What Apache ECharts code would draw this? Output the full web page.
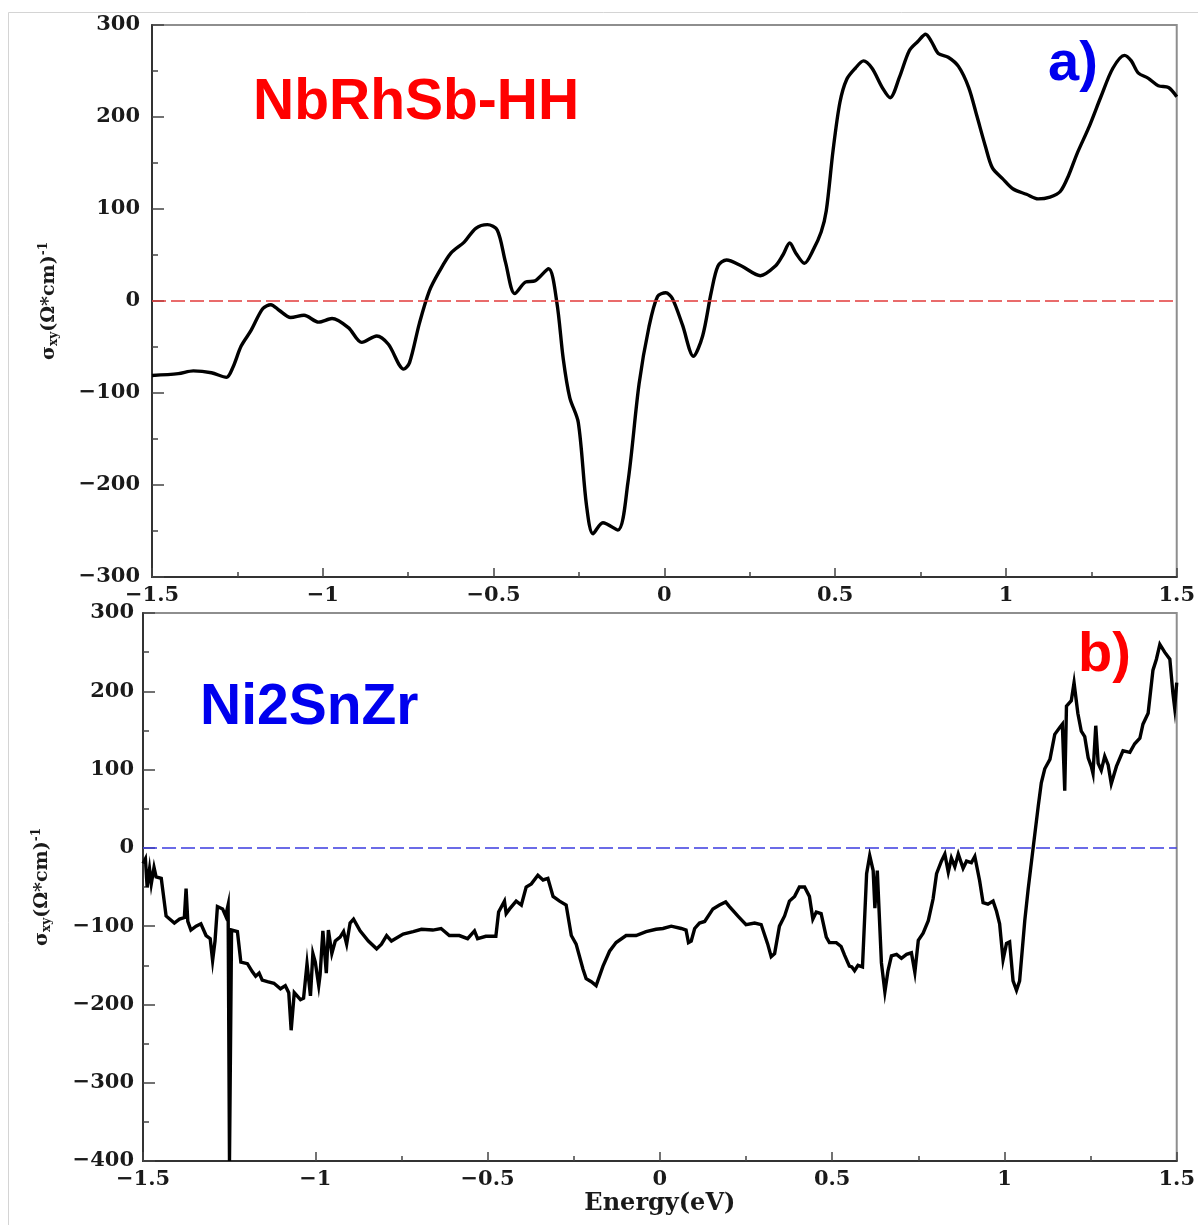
<!DOCTYPE html>
<html>
<head>
<meta charset="utf-8">
<title>Anomalous Hall conductivity</title>
<script src="https://cdn.jsdelivr.net/npm/echarts@6/dist/echarts.min.js"></script>
<style>
  html, body { margin: 0; padding: 0; background: #ffffff; }
  #chart { width: 1198px; height: 1225px; }
</style>
</head>
<body>
<div id="chart"></div>
<script>
// Energy axis ticks (eV) and conductivity axis limits
const energyTicks = [-1.5, -1, -0.5, 0, 0.5, 1, 1.5];
const nbSigmaRange = [-300, 300];
const niSigmaRange = [-400, 300];

// (a) NbRhSb-HH : sigma_xy vs energy
const nbEnergy = [
  -1.500, -1.423, -1.379, -1.326, -1.282, -1.263, -1.239, -1.210, -1.176, -1.152,
  -1.128, -1.094, -1.055, -1.012, -0.973, -0.925, -0.886, -0.842, -0.808, -0.763,
  -0.746, -0.717, -0.688, -0.659, -0.625, -0.586, -0.552, -0.518, -0.489, -0.465,
  -0.438, -0.407, -0.378, -0.339, -0.315, -0.296, -0.277, -0.252, -0.228, -0.209,
  -0.180, -0.136, -0.107, -0.074, -0.045, -0.020, 0.004, 0.023, 0.053, 0.085,
  0.112, 0.137, 0.157, 0.182, 0.226, 0.281, 0.325, 0.347, 0.367, 0.385,
  0.410, 0.435, 0.459, 0.474, 0.494, 0.514, 0.534, 0.559, 0.583, 0.608,
  0.638, 0.661, 0.688, 0.717, 0.742, 0.765, 0.782, 0.802, 0.831, 0.861,
  0.891, 0.915, 0.940, 0.960, 0.990, 1.020, 1.060, 1.094, 1.129, 1.159,
  1.184, 1.208, 1.243, 1.278, 1.313, 1.347, 1.367, 1.387, 1.417, 1.446,
  1.476, 1.500
];
const nbSigma = [
  -81, -79, -76, -78, -83, -72, -49, -32, -8.5, -4,
  -10, -18, -15.5, -23, -19, -29, -45, -38, -47, -74,
  -67, -24, 11, 32, 52, 64, 79, 83, 77, 42,
  8, 20.5, 22, 35, -1, -63, -105, -132, -222, -253,
  -241, -249, -198, -90, -28, 5, 9, 3, -26, -60,
  -38, 9, 38, 44.6, 38, 27.5, 38, 50, 63, 52,
  41, 55, 75, 98, 164, 216, 241, 253, 261, 253,
  232, 221, 243, 272, 282, 290, 282, 269, 265, 255,
  232, 201, 168, 145, 133, 122, 116, 111, 113, 119,
  137, 160, 189, 222, 253, 267, 261, 248, 242, 234,
  232, 222
];

// (b) Ni2SnZr : sigma_xy vs energy
const niEnergy = [
  -1.500, -1.493, -1.488, -1.481, -1.476, -1.468, -1.462, -1.447, -1.433, -1.409,
  -1.394, -1.380, -1.375, -1.370, -1.361, -1.346, -1.332, -1.317, -1.305, -1.298,
  -1.291, -1.284, -1.269, -1.260, -1.253, -1.249, -1.243, -1.226, -1.216, -1.197,
  -1.183, -1.173, -1.163, -1.154, -1.139, -1.120, -1.101, -1.087, -1.077, -1.070,
  -1.061, -1.043, -1.034, -1.024, -1.014, -1.007, -1.000, -0.990, -0.986, -0.978,
  -0.968, -0.962, -0.952, -0.942, -0.928, -0.918, -0.909, -0.899, -0.889, -0.870,
  -0.846, -0.822, -0.808, -0.793, -0.779, -0.745, -0.716, -0.692, -0.659, -0.635,
  -0.611, -0.582, -0.558, -0.538, -0.529, -0.505, -0.476, -0.468, -0.451, -0.446,
  -0.436, -0.417, -0.402, -0.388, -0.373, -0.354, -0.339, -0.325, -0.310, -0.291,
  -0.272, -0.257, -0.243, -0.223, -0.214, -0.199, -0.185, -0.165, -0.146, -0.127,
  -0.098, -0.069, -0.040, -0.011, 0.009, 0.033, 0.062, 0.076, 0.083, 0.091,
  0.101, 0.115, 0.130, 0.154, 0.173, 0.191, 0.202, 0.226, 0.250, 0.275,
  0.294, 0.313, 0.323, 0.333, 0.347, 0.362, 0.376, 0.391, 0.405, 0.420,
  0.434, 0.444, 0.454, 0.468, 0.483, 0.492, 0.512, 0.526, 0.536, 0.550,
  0.557, 0.565, 0.575, 0.588, 0.600, 0.609, 0.619, 0.624, 0.631, 0.643,
  0.653, 0.662, 0.672, 0.687, 0.701, 0.716, 0.730, 0.740, 0.750, 0.764,
  0.779, 0.793, 0.803, 0.817, 0.827, 0.837, 0.846, 0.856, 0.866, 0.880,
  0.890, 0.904, 0.914, 0.928, 0.938, 0.952, 0.967, 0.977, 0.986, 0.996,
  1.006, 1.015, 1.025, 1.035, 1.044, 1.059, 1.069, 1.083, 1.098, 1.107,
  1.117, 1.132, 1.146, 1.161, 1.168, 1.175, 1.180, 1.194, 1.202, 1.213,
  1.223, 1.233, 1.243, 1.252, 1.257, 1.265, 1.272, 1.281, 1.291, 1.301,
  1.310, 1.325, 1.344, 1.364, 1.378, 1.393, 1.402, 1.417, 1.431, 1.441,
  1.451, 1.465, 1.480, 1.489, 1.494, 1.500
];
const niSigma = [
  -20, -14, -50, -27, -46, -25, -37, -39, -87, -96,
  -91, -89, -52, -94, -105, -100, -97, -112, -116, -144,
  -119, -75, -78, -87, -73, -400, -105, -107, -146, -148,
  -158, -164, -160, -169, -171, -173, -180, -176, -185, -233,
  -185, -194, -192, -148, -189, -135, -146, -176, -162, -106,
  -160, -105, -135, -119, -114, -107, -123, -96, -91, -106,
  -119, -129, -123, -112, -119, -110, -107, -104, -105, -103,
  -112, -112, -116, -106, -116, -113, -113, -82, -68, -84,
  -78, -68, -73, -50, -46, -35, -41, -39, -62, -68,
  -73, -112, -123, -155, -167, -171, -176, -151, -132, -121,
  -112, -112, -107, -104, -103, -100, -103, -105, -121, -119,
  -103, -96, -94, -78, -73, -69, -75, -87, -98, -96,
  -98, -123, -139, -135, -100, -87, -68, -62, -50, -50,
  -62, -91, -82, -84, -114, -121, -121, -126, -137, -151,
  -152, -157, -150, -152, -33, -10, -29, -77, -29, -147,
  -184, -157, -138, -136, -141, -136, -134, -159, -118, -109,
  -93, -65, -33, -17, -8, -31, -13, -24, -8, -26,
  -17, -19, -11, -42, -70, -72, -68, -81, -97, -143,
  -122, -120, -170, -182, -170, -93, -52, -1, 53, 83,
  101, 113, 145, 154, 158, 73, 181, 188, 211, 172,
  149, 142, 115, 104, 95, 156, 108, 99, 117, 106,
  82, 104, 124, 122, 133, 140, 158, 172, 227, 241,
  260, 250, 241, 197, 179, 211
];

const pair = (xs, ys) => xs.map((x, i) => [x, ys[i]]);

const serif = '"DejaVu Serif", "Liberation Serif", serif';
const sans = '"Liberation Sans", Arial, sans-serif';
const minusSign = v => String(v).replace('-', '\u2212');

function makeXAxis(gridIndex, withName) {
  const ax = {
    type: 'value',
    gridIndex: gridIndex,
    min: energyTicks[0],
    max: energyTicks[energyTicks.length - 1],
    interval: 0.5,
    axisLine: { show: true, onZero: false, lineStyle: { color: '#333', width: 2 } },
    axisTick: { show: true, inside: true, length: 9, lineStyle: { color: '#444', width: 1.5 } },
    minorTick: { show: true, splitNumber: 2, length: 5, lineStyle: { color: '#444', width: 1.5 } },
    splitLine: { show: false },
    axisLabel: {
      show: true, margin: 8, color: '#1a1a1a',
      fontFamily: serif, fontWeight: 'bold', fontSize: 21,
      showMinLabel: true, showMaxLabel: true,
      formatter: minusSign
    }
  };
  if (withName) {
    ax.name = 'Energy(eV)';
    ax.nameLocation = 'middle';
    ax.nameGap = 31;
    ax.nameTextStyle = { fontFamily: serif, fontWeight: 'bold', fontSize: 24, color: '#1a1a1a' };
  }
  return ax;
}

function makeYAxis(gridIndex, range, gap, margin) {
  return {
    type: 'value',
    gridIndex: gridIndex,
    min: range[0],
    max: range[1],
    interval: 100,
    axisLine: { show: true, onZero: false, lineStyle: { color: '#333', width: 2 } },
    axisTick: { show: true, inside: true, length: 12, lineStyle: { color: '#444', width: 1.5 } },
    minorTick: { show: true, splitNumber: 2, length: 6, lineStyle: { color: '#444', width: 1.5 } },
    splitLine: { show: false },
    axisLabel: {
      show: true, margin: margin, color: '#1a1a1a',
      fontFamily: serif, fontWeight: 'bold', fontSize: 21,
      showMinLabel: true, showMaxLabel: true,
      formatter: minusSign
    },
    name: '{s|\u03c3}{sub|xy}{s|(\u03a9*cm)}{sup|-1}',
    nameLocation: 'middle',
    nameRotate: 90,
    nameGap: gap,
    nameTextStyle: {
      fontFamily: serif, fontWeight: 'bold', color: '#1a1a1a',
      rich: {
        s: { fontFamily: serif, fontWeight: 'bold', fontSize: 19, lineHeight: 22, color: '#1a1a1a' },
        sub: { fontFamily: serif, fontWeight: 'bold', fontSize: 12, lineHeight: 12, verticalAlign: 'bottom', color: '#1a1a1a' },
        sup: { fontFamily: serif, fontWeight: 'bold', fontSize: 12, lineHeight: 12, verticalAlign: 'top', color: '#1a1a1a' }
      }
    }
  };
}

function zeroLine(color) {
  return {
    silent: true,
    symbol: 'none',
    label: { show: false },
    lineStyle: { color: color, width: 1.5, type: [14, 5] },
    data: [{ yAxis: 0 }]
  };
}

const chart = echarts.init(document.getElementById('chart'), null, { renderer: 'canvas' });

chart.setOption({
  backgroundColor: '#ffffff',
  animation: false,
  grid: [
    { left: 152, top: 25, width: 1034, height: 552, show: true, borderColor: '#8e8e8e', borderWidth: 2, backgroundColor: 'transparent' },
    { left: 143, top: 613, width: 1034, height: 548, show: true, borderColor: '#8e8e8e', borderWidth: 2, backgroundColor: 'transparent' }
  ],
  xAxis: [makeXAxis(0, false), makeXAxis(1, true)],
  yAxis: [makeYAxis(0, nbSigmaRange, 92, 12), makeYAxis(1, niSigmaRange, 90, 9)],
  graphic: [
    {
      type: 'rect', silent: true, z: -1,
      shape: { x: 8.5, y: 12.5, width: 1200, height: 1220 },
      style: { fill: 'none', stroke: '#d4d4d4', lineWidth: 1 }
    },
    {
      type: 'text', x: 253, y: 75, silent: true,
      style: { text: 'NbRhSb-HH', fill: '#ff0000', font: 'bold 57px ' + sans, verticalAlign: 'top' }
    },
    {
      type: 'text', x: 1048, y: 37, silent: true,
      style: { text: 'a)', fill: '#0000ee', font: 'bold 56px ' + sans, verticalAlign: 'top' }
    },
    {
      type: 'text', x: 200, y: 680, silent: true,
      style: { text: 'Ni2SnZr', fill: '#0000ee', font: 'bold 57px ' + sans, verticalAlign: 'top' }
    },
    {
      type: 'text', x: 1078, y: 628, silent: true,
      style: { text: 'b)', fill: '#ff0000', font: 'bold 56px ' + sans, verticalAlign: 'top' }
    }
  ],
  series: [
    {
      name: 'NbRhSb-HH',
      type: 'line',
      xAxisIndex: 0, yAxisIndex: 0,
      data: pair(nbEnergy, nbSigma),
      showSymbol: false,
      smooth: 0.3,
      lineStyle: { color: '#000000', width: 3.4 },
      z: 3,
      markLine: zeroLine('#e23b3b')
    },
    {
      name: 'Ni2SnZr',
      type: 'line',
      xAxisIndex: 1, yAxisIndex: 1,
      data: pair(niEnergy, niSigma),
      showSymbol: false,
      lineStyle: { color: '#000000', width: 3.4, join: 'miter' },
      z: 3,
      markLine: zeroLine('#3b3be0')
    }
  ]
});
</script>
</body>
</html>
